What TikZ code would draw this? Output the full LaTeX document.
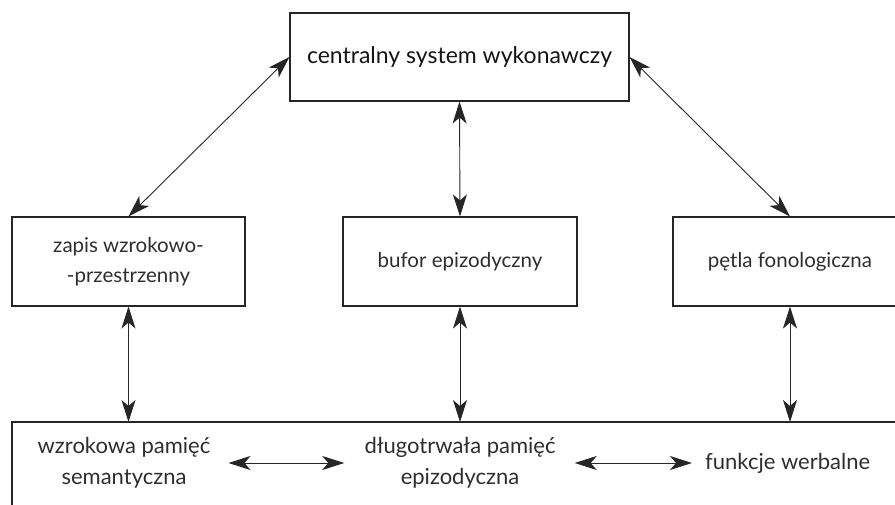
\documentclass[tikz,border=0pt]{standalone}
\usepackage{fontspec}
\setmainfont{Lato}
\usetikzlibrary{arrows.meta}
\definecolor{txt}{HTML}{2E2E2E}
\definecolor{ln}{HTML}{262626}
\begin{document}
\begin{tikzpicture}[x=1pt,y=-1pt,
  box/.style={draw=ln, line width=1.1pt, text=txt, align=center, inner sep=0pt, font=\fontsize{20.5}{30}\selectfont},
  lbl/.style={text=txt, align=center, inner sep=0pt, font=\fontsize{22}{31}\selectfont},
  conn/.style={draw=ln, line width=0.9pt, {Stealth[length=22pt,width=14pt,inset=6pt]}-{Stealth[length=22pt,width=14pt,inset=6pt]}}]
\useasboundingbox (0,0) rectangle (895,505);
\clip (0,0) rectangle (895,505);
\node[box, minimum width=339pt, minimum height=88pt, font=\fontsize{23}{28}\selectfont, text=black!92] (top) at (459.5,57) {centralny system wykonawczy};
\node[box, minimum width=233pt, minimum height=89pt] (vs) at (128.5,261.5) {zapis wzrokowo-\\-przestrzenny};
\node[box, minimum width=234pt, minimum height=89pt] (eb) at (460,261.5) {bufor epizodyczny};
\node[box, minimum width=234pt, minimum height=89pt] (pl) at (790,261.5) {pętla fonologiczna};
\coordinate (frame) at (12,422);
\draw[ln, line width=1.1pt] (900,422) -- (frame) -- (12,510);
\node[lbl] (wz) at (124,463) {wzrokowa pamięć\\semantyczna};
\node[lbl] (dl) at (460,463) {długotrwała pamięć\\epizodyczna};
\node[lbl, anchor=west] (fw) at (705,463) {funkcje werbalne};
\draw[conn] (top.west) -- (vs.north);
\draw[conn] (top.east) -- (pl.north);
\draw[conn] (top.south) -- (eb.north);
\draw[conn] (vs.south) -- (vs.south |- frame);
\draw[conn] (eb.south) -- (eb.south |- frame);
\draw[conn] (pl.south) -- (pl.south |- frame);
\draw[conn, shorten <=18pt, shorten >=20pt] (wz.east) -- (dl.west);
\draw[conn, shorten <=19pt, shorten >=13pt] (dl.east) -- (fw.west);
\end{tikzpicture}
\end{document}
